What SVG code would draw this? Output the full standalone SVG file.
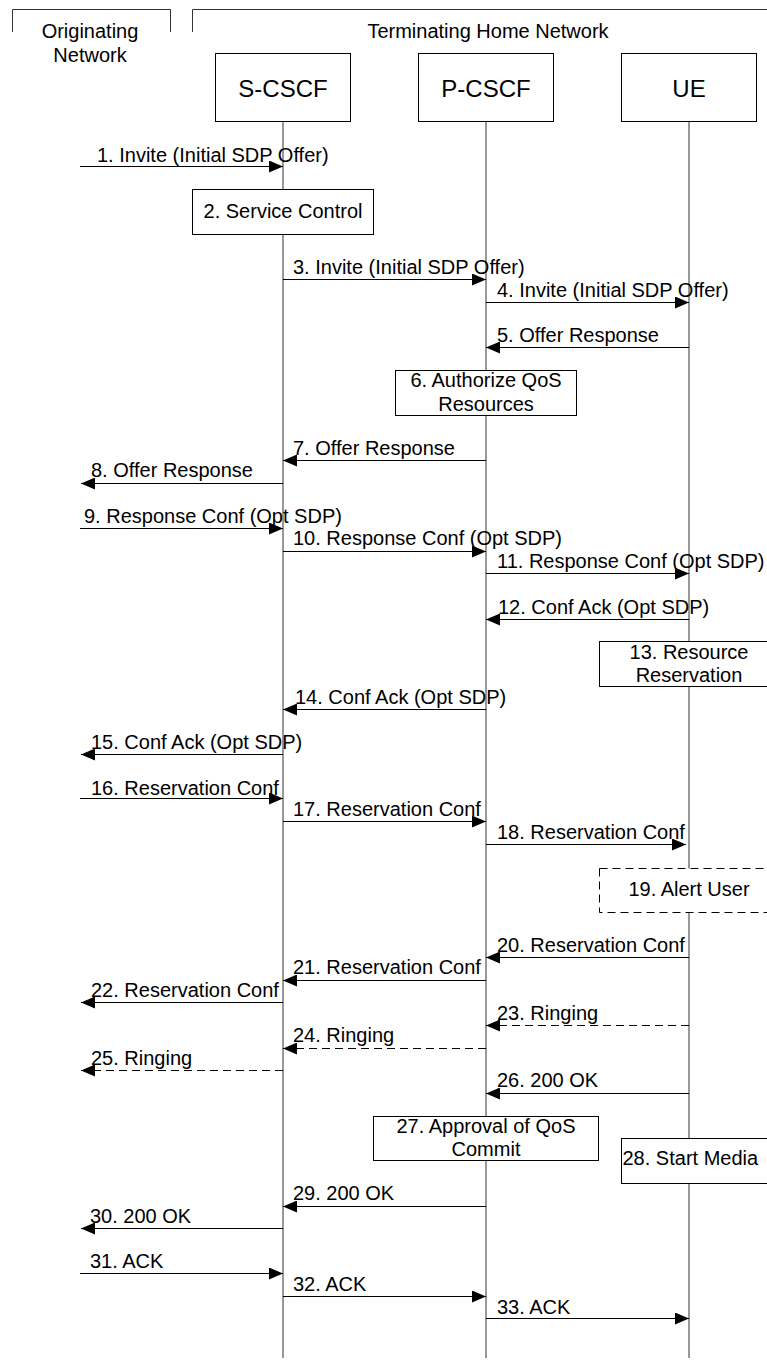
<svg xmlns="http://www.w3.org/2000/svg" width="767" height="1361" viewBox="0 0 767 1361">
<style>
text{font-family:"Liberation Sans",Arial,sans-serif;font-size:20px;fill:#000}
.hdr{text-anchor:middle}
.node{font-size:24px;text-anchor:middle}
.mid{text-anchor:middle}
.box{fill:#fff;stroke:#000;stroke-width:1}
.dbox{fill:#fff;stroke:#000;stroke-width:1;stroke-dasharray:8,5}
.life{stroke:#333;stroke-width:1;fill:none}
.msg{stroke:#000;stroke-width:1;fill:none;marker-end:url(#ah)}
.dash{stroke-dasharray:8,5}
.brk{stroke:#333;stroke-width:1;fill:none}
</style>
<defs>
<marker id="ah" markerUnits="userSpaceOnUse" markerWidth="14" markerHeight="12" refX="14" refY="6" orient="auto">
<path d="M0,0 L14,6 L0,12 Z" fill="#000" stroke="none"/>
</marker>
</defs>
<rect x="0" y="0" width="767" height="1361" fill="#fff"/>
<g id="domains">
<path class="brk" d="M12.5,32 V9.5 H170.5 V32"/>
<path class="brk" d="M192.5,32 V9.5 H767"/>
<text class="hdr" x="90" y="38">Originating</text>
<text class="hdr" x="90" y="61.5">Network</text>
<text class="hdr" x="488" y="38">Terminating Home Network</text>
</g>
<g id="lifelines">
<line class="life" x1="283" y1="122" x2="283" y2="1358"/>
<line class="life" x1="486" y1="122" x2="486" y2="1358"/>
<line class="life" x1="689" y1="122" x2="689" y2="1358"/>
</g>
<g id="S-CSCF">
<rect class="box" x="215.5" y="53.5" width="135" height="68"/>
<text class="node" x="283" y="97">S-CSCF</text>
</g>
<g id="P-CSCF">
<rect class="box" x="418.5" y="53.5" width="135" height="68"/>
<text class="node" x="486" y="97">P-CSCF</text>
</g>
<g id="UE">
<rect class="box" x="621.5" y="53.5" width="135" height="68"/>
<text class="node" x="689" y="97">UE</text>
</g>
<g id="step2">
<rect class="box" x="192.5" y="189.5" width="181" height="45"/>
<text class="mid" x="283" y="218">2. Service Control</text>
</g>
<g id="step6">
<rect class="box" x="395.5" y="370.5" width="181" height="45"/>
<text class="mid" x="486" y="387">6. Authorize QoS</text>
<text class="mid" x="486" y="411">Resources</text>
</g>
<g id="step13">
<rect class="box" x="599.5" y="641.5" width="181" height="45"/>
<text class="mid" x="689" y="658.5">13. Resource</text>
<text class="mid" x="689" y="682">Reservation</text>
</g>
<g id="step19">
<rect class="dbox" x="599.5" y="868.5" width="181" height="44"/>
<text class="mid" x="689" y="896">19. Alert User</text>
</g>
<g id="step27">
<rect class="box" x="373.5" y="1116.5" width="225" height="44"/>
<text class="mid" x="486" y="1132.5">27. Approval of QoS</text>
<text class="mid" x="486" y="1156">Commit</text>
</g>
<g id="step28">
<rect class="box" x="621.5" y="1138.5" width="170" height="45"/>
<text x="622.5" y="1165">28. Start Media</text>
</g>
<g id="connectors">
<line class="msg" x1="80" y1="166.5" x2="283" y2="166.5"/>
<line class="msg" x1="283" y1="279.5" x2="486" y2="279.5"/>
<line class="msg" x1="486" y1="302.5" x2="689" y2="302.5"/>
<line class="msg" x1="689" y1="347.5" x2="486" y2="347.5"/>
<line class="msg" x1="486" y1="460.5" x2="283" y2="460.5"/>
<line class="msg" x1="283" y1="483.5" x2="81" y2="483.5"/>
<line class="msg" x1="80" y1="528.5" x2="283" y2="528.5"/>
<line class="msg" x1="283" y1="551.5" x2="486" y2="551.5"/>
<line class="msg" x1="486" y1="573.5" x2="689" y2="573.5"/>
<line class="msg" x1="689" y1="619.5" x2="486" y2="619.5"/>
<line class="msg" x1="486" y1="709.5" x2="283" y2="709.5"/>
<line class="msg" x1="283" y1="754.5" x2="81" y2="754.5"/>
<line class="msg" x1="80" y1="798.5" x2="283" y2="798.5"/>
<line class="msg" x1="283" y1="821.5" x2="486" y2="821.5"/>
<line class="msg" x1="486" y1="844.5" x2="686" y2="844.5"/>
<line class="msg" x1="689" y1="957.5" x2="486" y2="957.5"/>
<line class="msg" x1="486" y1="980.5" x2="283" y2="980.5"/>
<line class="msg" x1="283" y1="1002.5" x2="81" y2="1002.5"/>
<line class="msg dash" x1="689" y1="1025.5" x2="486" y2="1025.5"/>
<line class="msg dash" x1="486" y1="1048.5" x2="283" y2="1048.5"/>
<line class="msg dash" x1="283" y1="1070.5" x2="81" y2="1070.5"/>
<line class="msg" x1="689" y1="1093.5" x2="486" y2="1093.5"/>
<line class="msg" x1="486" y1="1206.5" x2="283" y2="1206.5"/>
<line class="msg" x1="283" y1="1228.5" x2="81" y2="1228.5"/>
<line class="msg" x1="80" y1="1273.5" x2="283" y2="1273.5"/>
<line class="msg" x1="283" y1="1296.5" x2="486" y2="1296.5"/>
<line class="msg" x1="486" y1="1318.5" x2="689" y2="1318.5"/>
</g>
<g id="labels">
<text x="97" y="161.5">1. Invite (Initial SDP Offer)</text>
<text x="293" y="274">3. Invite (Initial SDP Offer)</text>
<text x="497" y="297">4. Invite (Initial SDP Offer)</text>
<text x="497" y="342">5. Offer Response</text>
<text x="293" y="455">7. Offer Response</text>
<text x="91" y="477">8. Offer Response</text>
<text x="84" y="523">9. Response Conf (Opt SDP)</text>
<text x="293" y="545">10. Response Conf (Opt SDP)</text>
<text x="497" y="567.5">11. Response Conf (Opt SDP)</text>
<text x="498" y="613.5">12. Conf Ack (Opt SDP)</text>
<text x="295" y="703.5">14. Conf Ack (Opt SDP)</text>
<text x="91" y="749">15. Conf Ack (Opt SDP)</text>
<text x="91" y="794.5">16. Reservation Conf</text>
<text x="293" y="816">17. Reservation Conf</text>
<text x="497" y="838.5">18. Reservation Conf</text>
<text x="497" y="952">20. Reservation Conf</text>
<text x="293" y="973.5">21. Reservation Conf</text>
<text x="91" y="997">22. Reservation Conf</text>
<text x="497" y="1020">23. Ringing</text>
<text x="293" y="1042">24. Ringing</text>
<text x="91" y="1065">25. Ringing</text>
<text x="497" y="1087">26. 200 OK</text>
<text x="293" y="1200">29. 200 OK</text>
<text x="90" y="1223">30. 200 OK</text>
<text x="90" y="1268">31. ACK</text>
<text x="293" y="1291">32. ACK</text>
<text x="497" y="1313.5">33. ACK</text>
</g>
</svg>
